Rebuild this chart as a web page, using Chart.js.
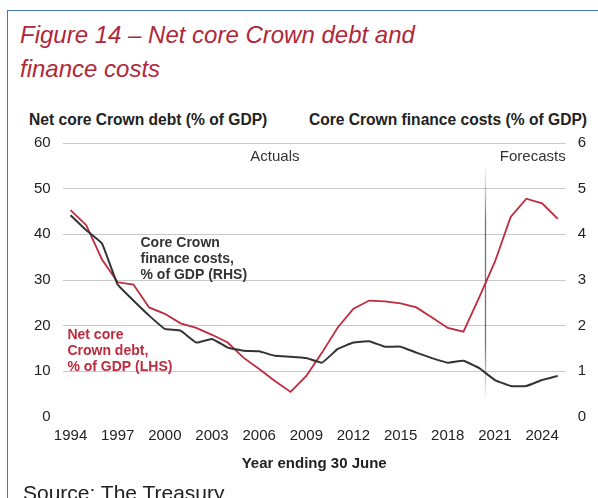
<!DOCTYPE html>
<html>
<head>
<meta charset="utf-8">
<script src="https://cdn.jsdelivr.net/npm/chart.js@4/dist/chart.umd.min.js"></script>
<style>
  html, body { margin: 0; padding: 0; background: #fff; }
  body { width: 598px; height: 498px; position: relative; overflow: hidden; font-family: "Liberation Sans", Arial, sans-serif; }
  #frame { position: absolute; left: 7px; top: 10px; right: -2px; bottom: -2px; border-left: 1.5px solid #4472c4; border-top: 1.5px solid #4472c4; }
  #title { position: absolute; left: 20px; top: 18px; font-size: 24px; font-style: italic; color: #b0283a; line-height: 34px; white-space: nowrap; }
  .axtitle { position: absolute; top: 111px; font-size: 15.6px; font-weight: bold; color: #222; line-height: 18px; white-space: nowrap; }
  #lt { left: 29px; }
  #rt { right: 11px; }
  #source { position: absolute; left: 23px; top: 481px; font-size: 21px; line-height: 24px; color: #222; white-space: nowrap; }
  canvas { position: absolute; left: 0; top: 0; }
</style>
</head>
<body>
<div id="frame"></div>
<div id="title">Figure 14 – Net core Crown debt and<br>finance costs</div>
<div class="axtitle" id="lt">Net core Crown debt (% of GDP)</div>
<div class="axtitle" id="rt">Core Crown finance costs (% of GDP)</div>
<canvas id="mycanvas" width="598" height="498"></canvas>
<div id="source">Source: The Treasury</div>
<script>
// years ending 30 June
var years = [1994, 1995, 1996, 1997, 1998, 1999, 2000, 2001, 2002, 2003, 2004,
             2005, 2006, 2007, 2008, 2009, 2010, 2011, 2012, 2013, 2014, 2015,
             2016, 2017, 2018, 2019, 2020, 2021, 2022, 2023, 2024, 2025];

// net core Crown debt, % of GDP (left axis)
var netDebt = [45.3, 42.0, 34.5, 29.5, 29.0, 24.0, 22.6, 20.5, 19.5, 18.0, 16.3,
               13.0, 10.5, 7.9, 5.5, 9.0, 14.1, 19.6, 23.7, 25.5, 25.3, 24.9,
               24.0, 21.8, 19.5, 18.7, 26.2, 34.0, 43.8, 47.8, 46.8, 43.4];

// core Crown finance costs, % of GDP (right axis)
var financeCosts = [4.42, 4.09, 3.80, 2.90, 2.55, 2.22, 1.93, 1.89, 1.63, 1.71, 1.52,
                    1.45, 1.44, 1.34, 1.32, 1.29, 1.19, 1.49, 1.63, 1.66, 1.54, 1.54,
                    1.41, 1.29, 1.19, 1.23, 1.07, 0.81, 0.68, 0.68, 0.81, 0.90];

var leftTicks = [0, 10, 20, 30, 40, 50, 60];
var rightTicks = [0, 1, 2, 3, 4, 5, 6];

var forecastStart = 2020.4;   // boundary between actuals and forecasts

var red = '#be2a3e';
var dark = '#333333';
var font = '"Liberation Sans", Arial, sans-serif';

// text labels on the plot, x in years, y in left-axis units
var notes = [
  { lines: ['Actuals'], year: 2007, val: 57, align: 'center', color: '#333', font: '15px ' + font },
  { lines: ['Forecasts'], year: 2025.5, val: 57, align: 'right', color: '#333', font: '15px ' + font },
  { lines: ['Core Crown', 'finance costs,', '% of GDP (RHS)'], year: 1998.45, val: 38.0, align: 'left', color: '#333', font: 'bold 14px ' + font },
  { lines: ['Net core', 'Crown debt,', '% of GDP (LHS)'], year: 1993.8, val: 18.0, align: 'left', color: red, font: 'bold 14px ' + font }
];

var extras = {
  id: 'extras',
  beforeDatasetsDraw: function(chart) {
    var ctx = chart.ctx, x = chart.scales.x, y = chart.scales.y;
    var px = x.getPixelForValue(forecastStart - years[0]);
    var top = y.getPixelForValue(55.2), bottom = y.getPixelForValue(3.5);
    var g = ctx.createLinearGradient(0, top, 0, bottom);
    g.addColorStop(0, 'rgba(90,90,90,0)');
    g.addColorStop(0.25, 'rgba(90,90,90,0.85)');
    g.addColorStop(0.75, 'rgba(90,90,90,0.85)');
    g.addColorStop(1, 'rgba(90,90,90,0)');
    ctx.save();
    ctx.strokeStyle = g;
    ctx.lineWidth = 1.3;
    ctx.beginPath();
    ctx.moveTo(px, top);
    ctx.lineTo(px, bottom);
    ctx.stroke();
    ctx.restore();
  },
  afterDatasetsDraw: function(chart) {
    var ctx = chart.ctx, x = chart.scales.x, y = chart.scales.y;
    ctx.save();
    ctx.textBaseline = 'middle';
    notes.forEach(function(n) {
      ctx.font = n.font;
      ctx.fillStyle = n.color;
      ctx.textAlign = n.align;
      var px = x.getPixelForValue(n.year - years[0]);
      var py = y.getPixelForValue(n.val);
      n.lines.forEach(function(t, i) {
        ctx.fillText(t, px, py + i * 16);
      });
    });
    ctx.restore();
  }
};

var ctx = document.getElementById('mycanvas');
var myChart = new Chart(ctx, {
  type: 'line',
  data: {
    labels: years,
    datasets: [{
      label: 'Core Crown finance costs, % of GDP (RHS)',
      data: financeCosts,
      yAxisID: 'y1',
      borderColor: dark,
      borderWidth: 2,
      pointRadius: 0,
      tension: 0.1
    }, {
      label: 'Net core Crown debt, % of GDP (LHS)',
      data: netDebt,
      yAxisID: 'y',
      borderColor: red,
      borderWidth: 1.8,
      pointRadius: 0,
      tension: 0
    }]
  },
  options: {
    responsive: false,
    animation: false,
    layout: { padding: { left: 22, right: 0, top: 143, bottom: 25 } },
    plugins: { legend: { display: false }, tooltip: { enabled: false } },
    scales: {
      x: {
        type: 'category',
        offset: true,
        grid: { display: false, drawTicks: false },
        border: { display: false },
        ticks: {
          autoSkip: false,
          maxRotation: 0,
          padding: 10,
          color: '#222',
          font: { family: font, size: 15 },
          callback: function(v, i) { return (years[i] - 1994) % 3 === 0 ? years[i] : ''; }
        },
        title: {
          display: true,
          text: 'Year ending 30 June',
          color: '#222',
          font: { family: font, size: 15, weight: 'bold' },
          padding: { top: 0, bottom: 0 }
        }
      },
      y: {
        position: 'left',
        min: leftTicks[0],
        max: leftTicks[leftTicks.length - 1],
        afterBuildTicks: function(s) { s.ticks = leftTicks.map(function(v) { return { value: v }; }); },
        grid: {
          drawTicks: false,
          lineWidth: 1,
          color: function(c) { return c.tick && c.tick.value === 0 ? 'rgba(0,0,0,0)' : '#c8c8c8'; }
        },
        border: { display: false },
        ticks: { padding: 12, color: '#222', font: { family: font, size: 15 } }
      },
      y1: {
        position: 'right',
        min: rightTicks[0],
        max: rightTicks[rightTicks.length - 1],
        afterBuildTicks: function(s) { s.ticks = rightTicks.map(function(v) { return { value: v }; }); },
        grid: { display: false, drawTicks: false },
        border: { display: false },
        ticks: { padding: 12, color: '#222', font: { family: font, size: 15 } }
      }
    }
  },
  plugins: [extras]
});
</script>
</body>
</html>
